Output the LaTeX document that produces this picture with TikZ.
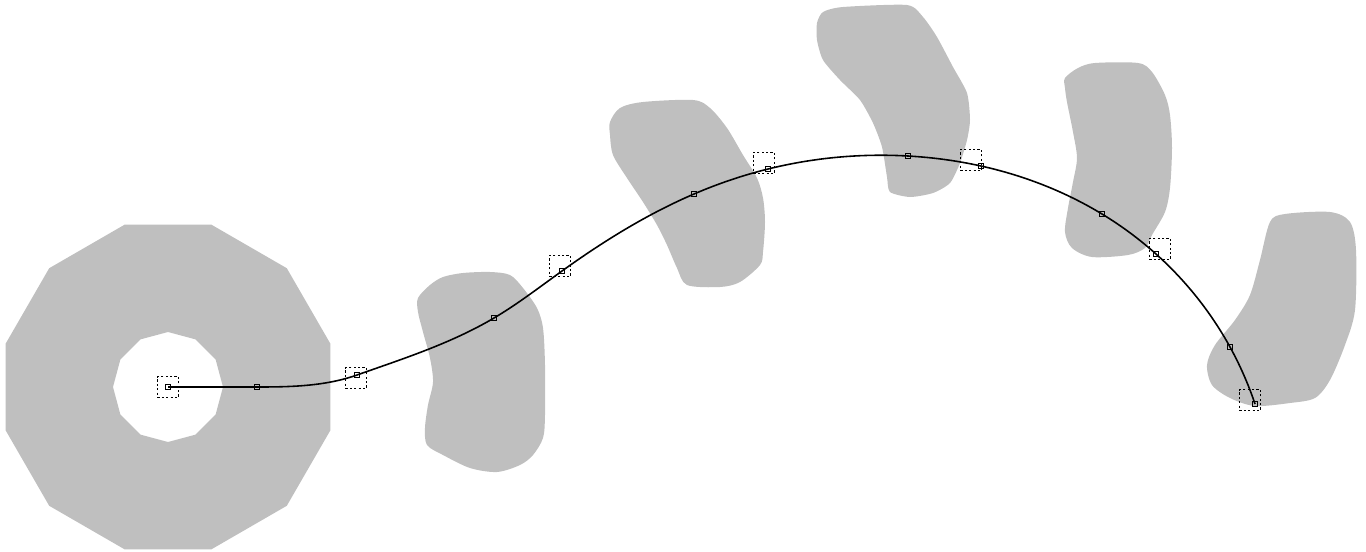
\documentclass[tikz,border=0pt]{standalone}
\usetikzlibrary{calc,hobby}
\begin{document}
\begin{tikzpicture} [x = 0.01cm, y = -0.01cm,
	obst/.style = {fill = black!25, draw = none},
	pt/.style = {draw, line width = 0.35pt, inner sep = 0pt, minimum size = 0.05cm},
	win/.style = {draw, line width = 0.55pt, dash pattern = on 0.6pt off 0.65pt, inner sep = 0pt, minimum size = 0.21cm}]
	\useasboundingbox (0,0) rectangle (1366,551);
	% ring round the start
	\coordinate (c) at (168,387);
	\fill [obst, even odd rule] ($(c)+(15:168)$) \foreach \a in {45,75,...,345} {-- ($(c)+(\a:168)$)} -- cycle
		($(c)+(0:55)$) \foreach \a in {30,60,...,330} {-- ($(c)+(\a:55)$)} -- cycle;
	% obstacles
	\fill [obst] plot [smooth cycle, tension = 0.5] coordinates {(418,298) (430,285) (443,277) (463,273) (490,272) (510,275) (523,288) (537,308) (543,328) (545,365) (545,415) (543,438) (533,455) (520,465) (497,472) (470,468) (443,455) (427,445) (425,428) (428,405) (433,382) (430,358) (423,332) (418,312)};
	\fill [obst] plot [smooth cycle, tension = 0.5] coordinates {(610,122) (620,108) (643,102) (693,100) (710,108) (727,128) (743,155) (757,178) (763,198) (765,222) (763,252) (760,265) (740,282) (720,287) (687,285) (677,268) (667,245) (657,225) (643,202) (627,178) (613,155) (610,135)};
	\fill [obst] plot [smooth cycle, tension = 0.4] coordinates {(817,23) (823,12) (843,7) (907,5) (923,17) (937,37) (953,67) (967,93) (970,120) (967,140) (960,163) (950,183) (933,193) (910,197) (890,192) (887,177) (882,147) (873,123) (860,100) (840,80) (823,60) (817,40)};
	\fill [obst] plot [smooth cycle, tension = 0.5] coordinates {(1065,78) (1078,68) (1095,63) (1138,63) (1152,72) (1165,95) (1170,115) (1172,148) (1170,188) (1165,212) (1152,235) (1145,248) (1128,255) (1092,257) (1072,248) (1065,232) (1068,208) (1073,182) (1077,158) (1073,132) (1067,102) (1065,88)};
	\fill [obst] plot [smooth cycle, tension = 0.5] coordinates {(1270,222) (1285,214) (1330,212) (1350,222) (1356,250) (1355,310) (1345,345) (1330,380) (1315,398) (1290,403) (1255,406) (1230,398) (1212,385) (1207,365) (1215,345) (1235,320) (1250,295) (1260,260)};
	% path points
	\node [pt] (p1) at (168,387) {};
	\node [pt] (p2) at (257,387) {};
	\node [pt] (p3) at (357,375) {};
	\node [pt] (p4) at (494,318) {};
	\node [pt] (p5) at (562,271) {};
	\node [pt] (p6) at (694,194) {};
	\node [pt] (p7) at (768,169) {};
	\node [pt] (p8) at (908,156) {};
	\node [pt] (p9) at (981,166) {};
	\node [pt] (p10) at (1102,214) {};
	\node [pt] (p11) at (1156,254) {};
	\node [pt] (p12) at (1230,347) {};
	\node [pt] (p13) at (1255,404) {};
	% windows
	\node [win] (w1) at (168,387) {};
	\node [win] (w2) at (356,378) {};
	\node [win] (w3) at (560,266) {};
	\node [win] (w4) at (764,163) {};
	\node [win] (w5) at (971,160) {};
	\node [win] (w6) at (1160,249) {};
	\node [win] (w7) at (1250,400) {};
	\draw [line width = 0.45pt] (p1.center) -- (p2.center);
	\draw [line width = 0.45pt, use Hobby shortcut] ([out angle = 0]p2.center) .. (p3.center) .. (p4.center) .. (p5.center) .. (p6.center) .. (p7.center) .. (p8.center) .. (p9.center) .. (p10.center) .. (p11.center) .. (p12.center) .. (p13.center);
\end{tikzpicture}
\end{document}
